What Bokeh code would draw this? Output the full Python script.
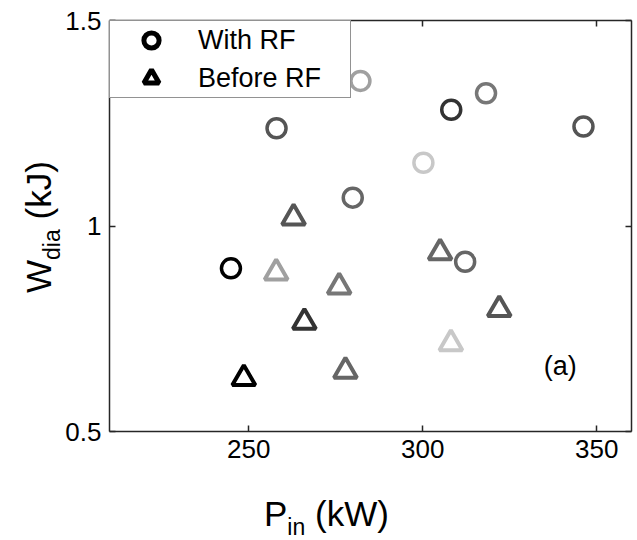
from bokeh.plotting import figure
from bokeh.models import (FixedTicker, LinearAxis, Range1d, Label, Legend,
                          LegendItem, ColumnDataSource, Div)
from bokeh.layouts import column, row
from bokeh.embed import file_html
from bokeh.resources import INLINE

# Stored energy versus input power, shots with RF and before RF
p_in_rf = [282.1, 258.0, 308.2, 318.2, 346.2, 300.2, 279.9, 244.9, 312.2]
w_dia_rf = [1.353, 1.238, 1.283, 1.323, 1.242, 1.154, 1.069, 0.897, 0.913]
shade_rf = ["#a0a0a0", "#555555", "#333333", "#777777", "#555555",
            "#c8c8c8", "#666666", "#000000", "#666666"]

p_in_before = [262.9, 257.9, 276.0, 305.0, 266.0, 322.0, 308.1, 248.6, 277.8]
w_dia_before = [1.020, 0.886, 0.852, 0.935, 0.766, 0.797, 0.714, 0.629, 0.647]
shade_before = ["#555555", "#a0a0a0", "#777777", "#666666", "#333333",
                "#555555", "#c8c8c8", "#000000", "#666666"]

x_ticks = [250, 300, 350]
y_ticks = [0.5, 1.0, 1.5]
y_tick_labels = ["0.5", "1", "1.5"]

FONT = "Liberation Sans"
FRAME_COLOR = "#262626"

# page pieces: y title strip | plot, then x title strip underneath
TITLE_W = 60
PLOT_W, PLOT_H = 577, 480
XTITLE_H = 60

p = figure(width=PLOT_W, height=PLOT_H, x_range=Range1d(210, 360), y_range=Range1d(0.5, 1.5),
           output_backend="svg", toolbar_location=None,
           x_axis_location=None, y_axis_location=None,
           min_border_left=49, min_border_right=6, min_border_top=20, min_border_bottom=49)
p.grid.visible = False
p.outline_line_color = None
p.background_fill_color = "white"
p.border_fill_color = "white"

bottom_axis = LinearAxis()
left_axis = LinearAxis()
top_axis = LinearAxis()
right_axis = LinearAxis()
p.add_layout(bottom_axis, "below")
p.add_layout(left_axis, "left")
p.add_layout(top_axis, "above")
p.add_layout(right_axis, "right")

for ax in [bottom_axis, top_axis]:
    ax.ticker = FixedTicker(ticks=x_ticks)
for ax in [left_axis, right_axis]:
    ax.ticker = FixedTicker(ticks=y_ticks)

for ax in [bottom_axis, left_axis, top_axis, right_axis]:
    ax.axis_line_color = FRAME_COLOR
    ax.axis_line_width = 1.5
    ax.major_tick_line_color = FRAME_COLOR
    ax.major_tick_line_width = 1.5
    ax.major_tick_in = 6
    ax.major_tick_out = 0
    ax.minor_tick_in = 0
    ax.minor_tick_out = 0
    ax.major_label_text_font = FONT
    ax.major_label_text_font_size = "26px"
    ax.major_label_text_color = "black"

# the box's top and right sides carry ticks only
top_axis.major_label_overrides = {t: "" for t in x_ticks}
right_axis.major_label_overrides = {t: "" for t in y_ticks}
top_axis.major_label_standoff = 0
right_axis.major_label_standoff = 0

bottom_axis.major_label_standoff = 8
left_axis.major_label_standoff = 8
left_axis.major_label_overrides = {t: s for t, s in zip(y_ticks, y_tick_labels)}

rf_src = ColumnDataSource(dict(x=p_in_rf, y=w_dia_rf, c=shade_rf))
before_src = ColumnDataSource(dict(x=p_in_before, y=w_dia_before, c=shade_before))

p.scatter("x", "y", source=rf_src, marker="circle", size=19, fill_color=None,
          line_color="c", line_width=3.5)
p.scatter("x", "y", source=before_src, marker="triangle", size=23, fill_color=None,
          line_color="c", line_width=4)

# hidden black copies that only supply the legend keys
key_rf = p.scatter("x", "y", source=rf_src, marker="circle", fill_color=None,
                   line_color="black", line_width=5, visible=False)
key_before = p.scatter("x", "y", source=before_src, marker="triangle", fill_color=None,
                       line_color="black", line_width=5, visible=False)

legend = Legend(items=[LegendItem(label="With RF", renderers=[key_rf]),
                       LegendItem(label="Before RF", renderers=[key_before])],
                location="top_left", margin=0, padding=0, spacing=-3,
                glyph_width=82, glyph_height=38, label_height=38, label_width=152,
                label_standoff=6, label_text_font=FONT, label_text_font_size="27px",
                label_text_baseline="middle", label_text_color="black",
                inactive_fill_alpha=0.0,
                border_line_color=FRAME_COLOR, border_line_width=1.5,
                background_fill_color="white", background_fill_alpha=1.0)
p.add_layout(legend, "center")

p.add_layout(Label(x=339.5, y=0.66, text="(a)", text_font=FONT, text_font_size="27px",
                   text_align="center", text_baseline="middle", text_color="black"))

# axis titles with subscripts, as HTML text
y_title = Div(
    width=TITLE_W, height=PLOT_H, margin=0,
    text=(f'<div style="position:relative;width:{TITLE_W}px;height:{PLOT_H}px;">'
          f'<div style="position:absolute;left:21px;top:293px;transform:rotate(-90deg);'
          f'transform-origin:left top;white-space:nowrap;font-family:\'{FONT}\';'
          f'font-size:35px;line-height:1;color:black;">'
          f'W<span style="font-size:23px;vertical-align:-9px;">dia</span> (kJ)</div></div>'))

x_title = Div(
    width=TITLE_W + PLOT_W, height=XTITLE_H, margin=0,
    text=(f'<div style="position:relative;width:{TITLE_W + PLOT_W}px;height:{XTITLE_H}px;">'
          f'<div style="position:absolute;left:264px;top:16px;white-space:nowrap;'
          f'font-family:\'{FONT}\';font-size:35px;line-height:1;color:black;">'
          f'P<span style="font-size:23px;vertical-align:-9px;">in</span> (kW)</div></div>'))

layout = column(row(y_title, p, spacing=0), x_title, spacing=0)

open("out.html", "w").write(file_html(layout, INLINE))
